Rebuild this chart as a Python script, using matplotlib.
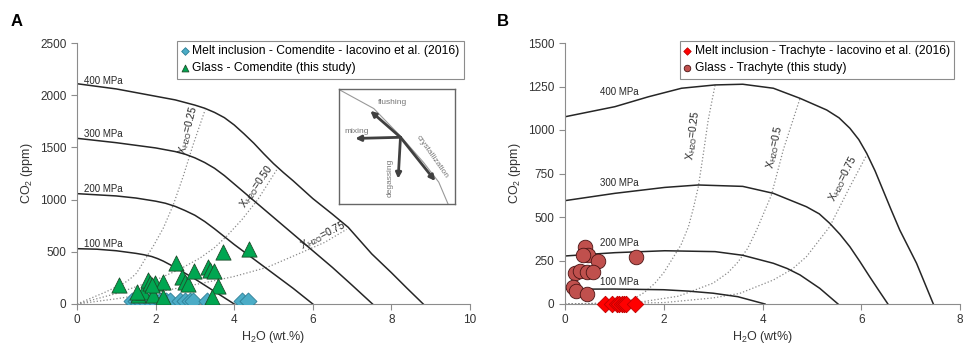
import numpy as np
import matplotlib
matplotlib.use('Agg')
import matplotlib.pyplot as plt

plt.rcParams['font.family'] = ['Liberation Sans', 'DejaVu Sans']

# ---- Panel A : comendite ----
miA_h2o = [1.39, 1.5, 1.6, 1.73, 1.86, 1.98, 2.11, 2.26, 2.37, 2.62, 2.75, 2.88, 2.96, 3.3, 4.19, 4.36]
miA_co2 = [30, 30, 30, 30, 30, 30, 30, 30, 30, 30, 30, 30, 30, 30, 30, 30]
glA_h2o = [1.06, 1.56, 1.69, 1.81, 1.86, 1.98, 1.94, 2.2, 2.2, 2.52, 2.66, 2.75, 2.83, 2.98,
           3.34, 3.38, 3.49, 3.6, 3.43, 3.72, 4.38, 1.52, 1.9]
glA_co2 = [185, 86, 118, 230, 198, 198, 86, 214, 70, 390, 262, 214, 191, 319,
           357, 326, 319, 172, 64, 501, 530, 112, 185]

isobarA_x = {
    '400 MPa': [0, 1, 2, 2.5, 3.0, 3.25, 3.5, 3.75, 4.0, 4.25, 4.5, 4.75, 5.0, 5.25, 5.5, 6.0, 6.5, 6.9, 7.5, 8.0, 8.4, 8.81],
    '300 MPa': [0, 1, 2, 2.5, 2.75, 3.0, 3.25, 3.5, 3.75, 4.0, 4.25, 4.5, 5.0, 5.5, 6.0, 6.5, 7.0, 7.52],
    '200 MPa': [0, 1, 1.5, 2, 2.25, 2.5, 2.75, 3.0, 3.25, 3.5, 3.75, 4.0, 4.5, 5.0, 5.5, 6.0],
    '100 MPa': [0, 0.5, 1.0, 1.5, 1.7, 1.9, 2.05, 2.2, 2.35, 2.5, 3.0, 3.5, 4.0],
}
isobarA_y = {
    '400 MPa': [2110, 2060, 1990, 1955, 1905, 1875, 1835, 1785, 1715, 1630, 1540, 1440, 1345, 1260, 1180, 1010, 860, 735, 480, 300, 150, 0],
    '300 MPa': [1587, 1545, 1495, 1460, 1435, 1400, 1355, 1300, 1230, 1150, 1070, 990, 830, 670, 510, 350, 180, 0],
    '200 MPa': [1057, 1035, 1015, 985, 965, 935, 895, 850, 790, 720, 645, 570, 430, 290, 150, 0],
    '100 MPa': [530, 525, 510, 485, 472, 455, 435, 410, 380, 350, 240, 120, 0],
}
isoplA_x = {
    '0.25': [0, 0.7, 1.2, 1.35, 1.5, 1.6, 1.7, 1.95, 2.2, 2.45, 2.7, 2.95, 3.26],
    '0.50': [0, 1.0, 2.0, 2.6, 3.13, 3.5, 3.81, 4.2, 4.6, 5.08],
    '0.75': [0, 1.0, 2.0, 3.13, 3.98, 4.83, 5.67, 6.3, 6.86],
}
isoplA_y = {
    '0.25': [0, 110, 200, 240, 290, 345, 410, 560, 730, 950, 1220, 1520, 1860],
    '0.50': [0, 100, 230, 330, 440, 540, 650, 810, 1000, 1284],
    '0.75': [0, 50, 110, 195, 262, 350, 486, 590, 715],
}

# ---- Panel B : trachyte ----
miB_h2o = [0.81, 0.95, 1.06, 1.1, 1.15, 1.2, 1.23, 1.42]
miB_co2 = [0, 0, 0, 0, 0, 0, 0, 0]
glB_h2o = [0.40, 0.47, 0.37, 0.67, 0.2, 0.3, 0.44, 0.57, 0.17, 0.22, 0.44, 1.43]
glB_co2 = [329, 282, 282, 249, 176, 190, 182, 182, 99, 75, 57, 268]

isobarB_x = {
    '400 MPa': [0, 1.01, 1.69, 2.36, 3.04, 3.6, 4.22, 4.76, 5.3, 5.55, 5.77, 5.95, 6.11, 6.28, 6.44, 6.6, 6.78, 7.12, 7.46],
    '300 MPa': [0, 1.01, 2.02, 2.7, 3.6, 4.22, 4.89, 5.15, 5.36, 5.57, 5.77, 5.97, 6.17, 6.35, 6.54],
    '200 MPa': [0, 1.01, 2.02, 3.04, 3.6, 4.22, 4.5, 4.76, 5.16, 5.53],
    '100 MPa': [0, 1.0, 2.0, 2.5, 3.0, 3.5, 4.05],
}
isobarB_y = {
    '400 MPa': [1076, 1134, 1191, 1240, 1259, 1263, 1240, 1182, 1115, 1070, 1010, 945, 866, 765, 655, 545, 425, 234, 0],
    '300 MPa': [594, 636, 670, 684, 676, 636, 559, 518, 464, 400, 329, 245, 157, 80, 0],
    '200 MPa': [276, 295, 306, 301, 280, 234, 204, 167, 90, 0],
    '100 MPa': [85, 86, 82, 74, 62, 42, 0],
}
isoplB_x = {
    '0.25': [0, 1.0, 1.35, 1.6, 1.82, 2.0, 2.16, 2.35, 2.5, 2.6, 2.7, 2.8, 2.9, 3.04],
    '0.5': [0, 1.5, 2.3, 3.0, 3.3, 3.5, 3.7, 3.88, 4.18, 4.42, 4.76],
    '0.75': [0, 2.0, 3.0, 3.54, 4.22, 4.6, 4.89, 5.36, 5.77, 6.11],
}
isoplB_y = {
    '0.25': [0, 3, 23, 65, 119, 180, 253, 340, 444, 550, 674, 860, 1057, 1259],
    '0.5': [0, 10, 45, 120, 180, 240, 320, 425, 626, 885, 1182],
    '0.75': [0, 8, 35, 61, 138, 200, 272, 444, 674, 856],
}

dark = '#333333'
spine_col = '#8c8c8c'


def style_axes(ax):
    for s in ['top', 'right']:
        ax.spines[s].set_visible(False)
    for s in ['left', 'bottom']:
        ax.spines[s].set_color(spine_col)
        ax.spines[s].set_linewidth(0.8)
    ax.tick_params(direction='out', length=4, width=0.8, color=spine_col,
                   labelsize=8.5, labelcolor=dark)


def xlab(h):
    return 'X$_{\\mathregular{H2O}}$=' + h


fig = plt.figure(figsize=(9.64, 3.47), dpi=100)
axA = fig.add_axes([77 / 964, 43 / 347, 393 / 964, 261 / 347])
axB = fig.add_axes([565 / 964, 43 / 347, 395 / 964, 261 / 347])

# ---------- A ----------
for k in isoplA_x:
    axA.plot(isoplA_x[k], isoplA_y[k], ls=':', color='#8a8a8a', lw=0.9, zorder=1)
for k in isobarA_x:
    axA.plot(isobarA_x[k], isobarA_y[k], color='#262626', lw=1.1, zorder=2)

labA_pos = {'400 MPa': 2140, '300 MPa': 1629, '200 MPa': 1105, '100 MPa': 578}
for k, yv in labA_pos.items():
    axA.text(0.67, yv, k, fontsize=7, ha='center', va='center', color='#262626')

axA.text(2.83, 1667, xlab('0.25'), rotation=76, fontsize=7.5, ha='center', va='center', color='#262626')
axA.text(4.57, 1124, xlab('0.50'), rotation=55, fontsize=7.5, ha='center', va='center', color='#262626')
axA.text(6.27, 661, xlab('0.75'), rotation=27, fontsize=7.5, ha='center', va='center', color='#262626')

axA.scatter(miA_h2o, miA_co2, marker='D', s=75, facecolor='#4bacc6', edgecolor='#2e7f96',
            linewidth=0.6, zorder=3, label='Melt inclusion - Comendite - Iacovino et al. (2016)')
axA.scatter(glA_h2o, glA_co2, marker='^', s=120, facecolor='#00a651', edgecolor='#1d4d2a',
            linewidth=0.6, zorder=4, label='Glass - Comendite (this study)')

axA.set_xlim(0, 10)
axA.set_ylim(0, 2500)
axA.set_xticks([0, 2, 4, 6, 8, 10])
axA.set_yticks([0, 500, 1000, 1500, 2000, 2500])
style_axes(axA)
axA.set_xlabel('H$_{\\mathregular{2}}$O (wt.%)', fontsize=9, color=dark, labelpad=2)
axA.set_ylabel('CO$_{\\mathregular{2}}$ (ppm)', fontsize=9, color=dark, labelpad=4)
legA = axA.legend(loc='upper right', bbox_to_anchor=(1.0, 1.03), fontsize=8.7, markerscale=0.45,
                  handlelength=0.6, handletextpad=0.3, borderpad=0.35, labelspacing=0.4,
                  fancybox=False, edgecolor='#8c8c8c', framealpha=1)
legA.get_frame().set_linewidth(0.8)

# inset sketch
ins = fig.add_axes([339 / 964, (347 - 204) / 347, 116 / 964, 115 / 347])
ins.set_xlim(0, 1)
ins.set_ylim(0, 1)
ins.set_xticks([])
ins.set_yticks([])
for s in ins.spines.values():
    s.set_color('#666666')
    s.set_linewidth(1.0)
ins.plot([0.01, 0.3, 0.53, 0.73, 0.86, 0.94], [0.99, 0.83, 0.59, 0.36, 0.19, 0.0],
         color='#999999', lw=0.8)
c = (0.53, 0.58)
tips = [(0.27, 0.81), (0.83, 0.2), (0.14, 0.57), (0.51, 0.22)]
for t in tips:
    ins.annotate('', xy=t, xytext=c,
                 arrowprops=dict(arrowstyle='-|>', color='#404040', lw=2.0,
                                 mutation_scale=8, shrinkA=0, shrinkB=0))
ins.text(0.46, 0.88, 'flushing', fontsize=6, color='#777777', ha='center', va='center')
ins.text(0.155, 0.63, 'mixing', fontsize=6, color='#777777', ha='center', va='center')
ins.text(0.44, 0.23, 'degassing', fontsize=6, color='#777777', ha='center', va='center', rotation=90)
ins.text(0.8, 0.41, 'crystallization', fontsize=6, color='#777777', ha='center', va='center', rotation=-55)

# ---------- B ----------
for k in isoplB_x:
    axB.plot(isoplB_x[k], isoplB_y[k], ls=':', color='#8a8a8a', lw=0.9, zorder=1)
for k in isobarB_x:
    axB.plot(isobarB_x[k], isobarB_y[k], color='#262626', lw=1.1, zorder=2)

labB_pos = {'400 MPa': 1220, '300 MPa': 694, '200 MPa': 349, '100 MPa': 128}
for k, yv in labB_pos.items():
    axB.text(1.11, yv, k, fontsize=7, ha='center', va='center', color='#262626')

axB.text(2.6, 971, xlab('0.25'), rotation=83, fontsize=7.5, ha='center', va='center', color='#262626')
axB.text(4.25, 904, xlab('0.5'), rotation=78, fontsize=7.5, ha='center', va='center', color='#262626')
axB.text(5.63, 722, xlab('0.75'), rotation=63, fontsize=7.5, ha='center', va='center', color='#262626')

axB.scatter(miB_h2o, miB_co2, marker='D', s=70, facecolor='#ff0000', edgecolor='#c00000',
            linewidth=0.6, zorder=3, clip_on=False, label='Melt inclusion - Trachyte - Iacovino et al. (2016)')
axB.scatter(glB_h2o, glB_co2, marker='o', s=110, facecolor='#c0504d', edgecolor='#4a1414',
            linewidth=0.6, zorder=4, label='Glass - Trachyte (this study)')

axB.set_xlim(0, 8)
axB.set_ylim(0, 1500)
axB.set_xticks([0, 2, 4, 6, 8])
axB.set_yticks([0, 250, 500, 750, 1000, 1250, 1500])
style_axes(axB)
axB.set_xlabel('H$_{\\mathregular{2}}$O (wt%)', fontsize=9, color=dark, labelpad=2)
axB.set_ylabel('CO$_{\\mathregular{2}}$ (ppm)', fontsize=9, color=dark, labelpad=4)
legB = axB.legend(loc='upper right', bbox_to_anchor=(1.0, 1.03), fontsize=8.7, markerscale=0.45,
                  handlelength=0.6, handletextpad=0.3, borderpad=0.35, labelspacing=0.4,
                  fancybox=False, edgecolor='#8c8c8c', framealpha=1)
legB.get_frame().set_linewidth(0.8)

fig.text(16.5 / 964, 1 - 21 / 347, 'A', fontsize=12, fontweight='bold', ha='center', va='center')
fig.text(503 / 964, 1 - 21 / 347, 'B', fontsize=12, fontweight='bold', ha='center', va='center')

fig.savefig('out.png', dpi=100)
